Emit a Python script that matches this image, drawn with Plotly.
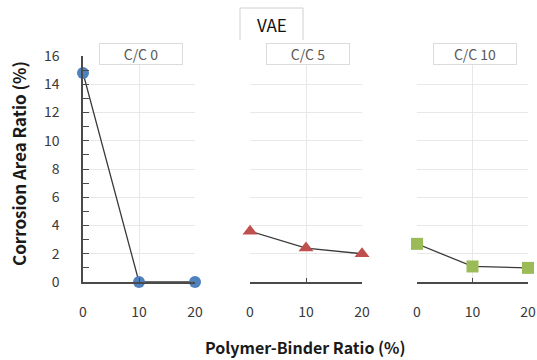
import plotly.graph_objects as go

ratios = [0, 10, 20]
panel_titles = ["C/C 0", "C/C 5", "C/C 10"]
cc0 = [14.8, 0.0, 0.0]
cc5 = [3.6, 2.4, 2.0]
cc10 = [2.7, 1.1, 1.0]
series = [cc0, cc5, cc10]
colors = ["#4F81BD", "#C0504D", "#9BBB59"]
symbols = ["circle", "triangle-up", "square"]
y_ticks = [0, 2, 4, 6, 8, 10, 12, 14, 16]

W, H = 537, 360
def px(x):
    return x / W
def py(y):
    return 1 - y / H

domains = [(83, 195), (250, 362), (417, 528)]
ytop, ybot = 56, 282

fig = go.Figure()
font_fam = "Noto Sans CJK KR, Open Sans, sans-serif"
for i, (vals, col, sym) in enumerate(zip(series, colors, symbols)):
    xa = "x" if i == 0 else f"x{i+1}"
    ya = "y" if i == 0 else f"y{i+1}"
    fig.add_trace(go.Scatter(
        x=ratios, y=vals, xaxis=xa, yaxis=ya, mode="lines+markers",
        line=dict(color="#3a3a3a", width=1.3),
        marker=dict(color=col, symbol=sym, size=12 if sym != "triangle-up" else 13,
                    line=dict(width=0)),
        cliponaxis=False, showlegend=False))

layout = dict(width=W, height=H, margin=dict(l=0, r=0, t=0, b=0, autoexpand=False),
              plot_bgcolor="white", paper_bgcolor="white",
              font=dict(family=font_fam, color="#404040", size=12))
for i, (x0, x1) in enumerate(domains):
    sfx = "" if i == 0 else str(i + 1)
    layout["xaxis" + sfx] = dict(
        domain=[px(x0), px(x1)], range=[0, 20], tickvals=ratios,
        ticktext=[str(r) for r in ratios], showgrid=True, gridcolor="#e8e8e8",
        zeroline=False, showline=True, linecolor="#4a4a4a", linewidth=1.5,
        ticks="inside", ticklen=4, tickcolor="#4a4a4a", ticklabelstandoff=16,
        tickfont=dict(size=14, color="#3a3a3a"), anchor="y" + sfx,
        automargin=False)
    layout["yaxis" + sfx] = dict(
        domain=[py(ybot), py(ytop)], range=[0, 16], tickvals=y_ticks,
        showgrid=True, gridcolor="#e8e8e8", zeroline=False,
        showline=(i == 0), linecolor="#4a4a4a", linewidth=1.5,
        ticks="inside" if i == 0 else "", ticklen=6, tickcolor="#4a4a4a",
        showticklabels=(i == 0), ticklabelstandoff=19,
        tickfont=dict(size=14, color="#3a3a3a"),
        minor=dict(dtick=1, ticks="inside", ticklen=6, tickcolor="#4a4a4a",
                   showgrid=False) if i == 0 else dict(ticks="", showgrid=False),
        anchor="x" + sfx, automargin=False)
fig.update_layout(**layout)

ann = []
for (x0, x1), t in zip(domains, panel_titles):
    ann.append(dict(x=px((x0 + x1) / 2 + 2), y=py(54), xref="paper", yref="paper",
                    xanchor="center", yanchor="middle",
                    text=t, showarrow=False, width=80, height=18,
                    bgcolor="white", bordercolor="#dcdcdc", borderwidth=1,
                    font=dict(size=14, color="#595959")))
ann.append(dict(x=px(271.5), y=py(25), xref="paper", yref="paper", text="VAE",
                xanchor="center", yanchor="middle",
                showarrow=False, font=dict(size=17, color="#111111")))
ann.append(dict(x=px(19), y=py(164), xref="paper", yref="paper",
                xanchor="center", yanchor="middle",
                text="<b>Corrosion Area Ratio (%)</b>", textangle=-90,
                showarrow=False, font=dict(size=17, color="#1a1a1a")))
ann.append(dict(x=px(305), y=py(347), xref="paper", yref="paper",
                xanchor="center", yanchor="middle",
                text="<b>Polymer-Binder Ratio (%)</b>",
                showarrow=False, font=dict(size=16, color="#1a1a1a")))
fig.update_layout(annotations=ann)

fig.add_shape(type="path", xref="paper", yref="paper",
              path=f"M {px(240)} {py(40)} L {px(240)} {py(8)} L {px(303)} {py(8)} L {px(303)} {py(40)}",
              line=dict(color="#d0d0d0", width=1))

fig.write_html("out.html")
